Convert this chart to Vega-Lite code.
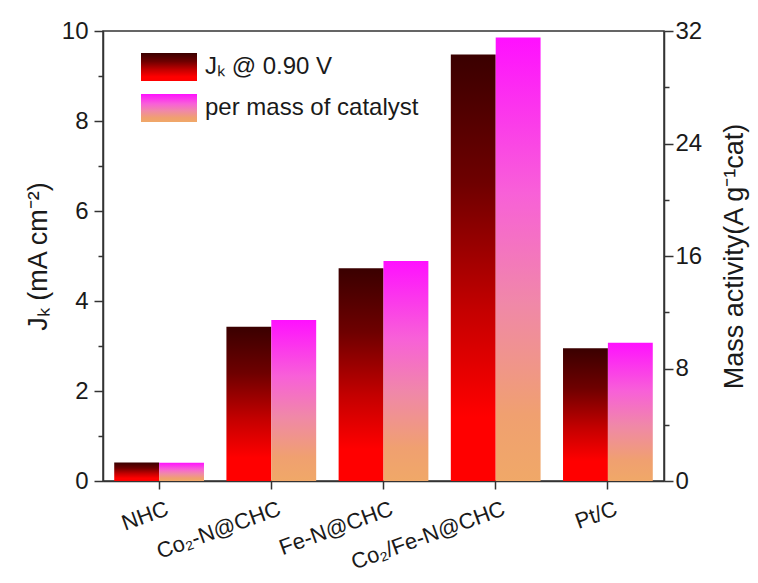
{
  "$schema": "https://vega.github.io/schema/vega-lite/v6.json",
  "width": 561,
  "height": 450,
  "autosize": {"type": "none"},
  "padding": {"left": 103, "top": 31, "right": 94, "bottom": 102},
  "background": "white",
  "config": {
    "font": "Liberation Sans",
    "view": {"stroke": "#333", "strokeWidth": 1.5},
    "axis": {
      "domainColor": "#333",
      "domainWidth": 1.5,
      "tickColor": "#333",
      "tickWidth": 1.5,
      "labelColor": "#1a1a1a",
      "titleColor": "#1a1a1a",
      "labelFont": "Liberation Sans",
      "titleFont": "Liberation Sans",
      "titleFontWeight": "normal",
      "grid": false
    },
    "legend": {
      "title": null,
      "orient": "none",
      "symbolType": "M-1,-0.5H1V0.5H-1Z",
      "symbolSize": 3136,
      "symbolStrokeWidth": 0,
      "labelFontSize": 24,
      "labelColor": "#1a1a1a",
      "labelFont": "Liberation Sans",
      "labelOffset": 8,
      "labelLimit": 400
    }
  },
  "data": {
    "values": [
      {"cat": "NHC", "series": "Jₖ @ 0.90 V", "value": 0.41},
      {"cat": "Co₂-N@CHC", "series": "Jₖ @ 0.90 V", "value": 3.43},
      {"cat": "Fe-N@CHC", "series": "Jₖ @ 0.90 V", "value": 4.73},
      {"cat": "Co₂/Fe-N@CHC", "series": "Jₖ @ 0.90 V", "value": 9.48},
      {"cat": "Pt/C", "series": "Jₖ @ 0.90 V", "value": 2.95},
      {"cat": "NHC", "series": "per mass of catalyst", "value": 1.3},
      {"cat": "Co₂-N@CHC", "series": "per mass of catalyst", "value": 11.45},
      {"cat": "Fe-N@CHC", "series": "per mass of catalyst", "value": 15.65},
      {"cat": "Co₂/Fe-N@CHC", "series": "per mass of catalyst", "value": 31.53},
      {"cat": "Pt/C", "series": "per mass of catalyst", "value": 9.84}
    ]
  },
  "encoding": {
    "x": {
      "field": "cat",
      "type": "nominal",
      "sort": null,
      "scale": {"paddingInner": 0.2, "paddingOuter": 0.1},
      "axis": {
        "title": null,
        "labelAngle": -20,
        "labelAlign": "right",
        "labelBaseline": "top",
        "labelFontSize": 22,
        "labelPadding": 9,
        "labelOffset": 5,
        "tickSize": 8
      }
    },
    "xOffset": {
      "field": "series",
      "type": "nominal",
      "scale": {"domain": ["Jₖ @ 0.90 V", "per mass of catalyst"]}
    }
  },
  "layer": [
    {
      "transform": [{"filter": "datum.series === 'Jₖ @ 0.90 V'"}],
      "mark": {
        "type": "bar",
        "color": {"gradient": "linear", "x1": 0, "y1": 0, "x2": 0, "y2": 1, "stops": [
          {"offset": 0, "color": "#3a0000"},
          {"offset": 0.3, "color": "#6e0000"},
          {"offset": 0.6, "color": "#c40000"},
          {"offset": 0.85, "color": "#ff0000"},
          {"offset": 1, "color": "#ff0000"}
        ]}
      },
      "encoding": {
        "opacity": {
          "field": "series",
          "type": "ordinal",
          "scale": {"range": [1, 1]},
          "legend": {"legendX": 38, "legendY": 8}
        },
        "y": {
          "field": "value",
          "type": "quantitative",
          "scale": {"domain": [0, 10], "nice": false},
          "axis": {
            "title": "Jₖ (mA cm⁻²)",
            "values": [0, 1, 2, 3, 4, 5, 6, 7, 8, 9, 10],
            "labelExpr": "datum.value % 2 === 0 ? datum.label : ''",
            "tickSize": {"condition": {"test": "datum.value % 2 === 0", "value": 9}, "value": 5},
            "labelFontSize": 24,
            "labelPadding": 6,
            "titleFontSize": 27,
            "titlePadding": 9
          }
        }
      }
    },
    {
      "transform": [{"filter": "datum.series === 'per mass of catalyst'"}],
      "mark": {
        "type": "bar",
        "color": {"gradient": "linear", "x1": 0, "y1": 0, "x2": 0, "y2": 1, "stops": [
          {"offset": 0, "color": "#ff10ff"},
          {"offset": 0.35, "color": "#f860d8"},
          {"offset": 0.6, "color": "#f088a8"},
          {"offset": 0.85, "color": "#f0a070"},
          {"offset": 1, "color": "#f0a868"}
        ]}
      },
      "encoding": {
        "opacity": {
          "field": "series",
          "type": "ordinal",
          "scale": {"range": [1, 1]},
          "legend": {"legendX": 38, "legendY": 49}
        },
        "y": {
          "field": "value",
          "type": "quantitative",
          "scale": {"domain": [0, 32], "nice": false},
          "axis": {
            "orient": "right",
            "title": "Mass activity(A g⁻¹cat)",
            "titleAngle": -90,
            "titleBaseline": "top",
            "values": [0, 4, 8, 12, 16, 20, 24, 28, 32],
            "labelExpr": "datum.value % 8 === 0 ? datum.label : ''",
            "tickSize": {"condition": {"test": "datum.value % 8 === 0", "value": 9}, "value": 5},
            "labelFontSize": 24,
            "labelPadding": 2,
            "titleFontSize": 27,
            "titlePadding": 20
          }
        }
      }
    }
  ],
  "resolve": {
    "scale": {"y": "independent", "opacity": "independent"},
    "legend": {"opacity": "independent"}
  }
}
